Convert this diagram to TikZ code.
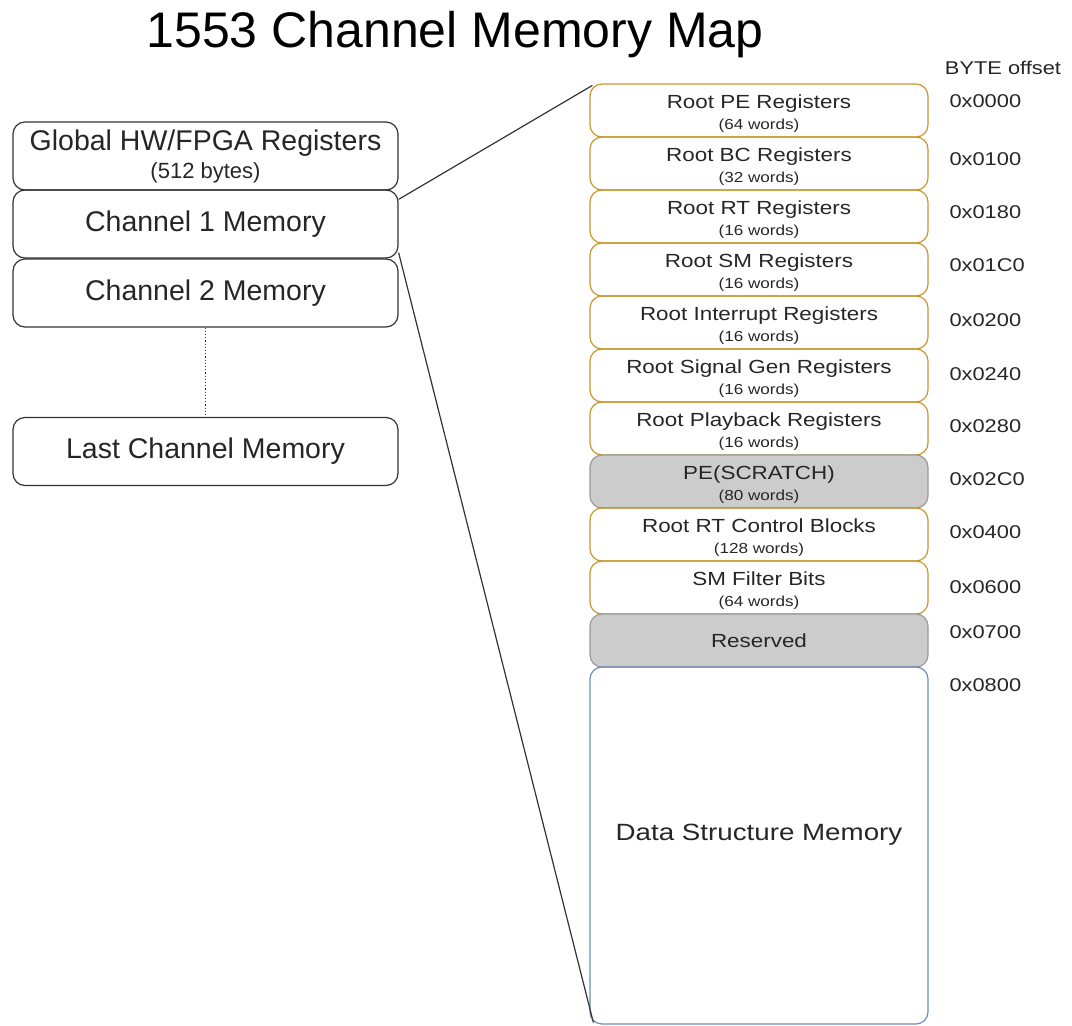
\documentclass[tikz,border=0pt]{standalone}
\usepackage{fontspec}
\setmainfont{Liberation Sans}
\newfontfamily\regfont[FakeStretch=1.18]{Liberation Sans}
\usetikzlibrary{positioning}

\definecolor{regline}{HTML}{C8962E}
\definecolor{scratchfill}{HTML}{CCCCCC}
\definecolor{scratchline}{HTML}{9A9A9A}
\definecolor{dataline}{HTML}{6C8EBF}
\definecolor{boxline}{HTML}{333333}

\tikzset{
  chanbox/.style={draw=boxline, line width=1.2pt, rounded corners=12pt, minimum width=385pt, minimum height=68pt, inner sep=0pt, align=center, font=\fontsize{28.5}{33}\selectfont, text=black!85},
  regbox/.style={draw=regline, line width=1.2pt, rounded corners=12pt, minimum width=338pt, minimum height=53pt, inner sep=0pt, align=center, font=\regfont\fontsize{19}{22}\selectfont, text=black!85},
  graybox/.style={regbox, draw=scratchline, fill=scratchfill},
  offs/.style={anchor=west, font=\regfont\fontsize{18.5}{22}\selectfont, text=black!85},
}
\newcommand{\regtext}[2]{\rule{0pt}{20pt}#1\\[-1pt]{\fontsize{14.5}{16}\selectfont (#2 words)}}

\begin{document}
\begin{tikzpicture}[x=1pt, y=-1pt]
		\useasboundingbox (0,0) rectangle (1072,1026);
		\node[font=\fontsize{50}{60}\selectfont, anchor=base] (title) at (455,47) {1553 Channel Memory Map};
		% left column
		\node[chanbox] (global) at (205.5,156) {Global HW/FPGA Registers\\[-5pt]{\fontsize{22}{24}\selectfont (512 bytes)}};
		\node[chanbox] (ch1) at (205.5,224) {Channel 1 Memory};
		\node[chanbox] (ch2) at (205.5,293) {Channel 2 Memory};
		\node[chanbox] (last) at (205.5,451.5) {Last Channel Memory};
		\draw[boxline, line width=1.2pt, dotted] (ch2.south) -- (last.north);
		% right column
		\node[regbox] (rootpe) at (759,110.5) {\regtext{Root PE Registers}{64}};
		\node[regbox] (rootbc) at (759,163.5) {\regtext{Root BC Registers}{32}};
		\node[regbox] (rootrt) at (759,216.5) {\regtext{Root RT Registers}{16}};
		\node[regbox] (rootsm) at (759,269.5) {\regtext{Root SM Registers}{16}};
		\node[regbox] (rootint) at (759,322.5) {\regtext{Root Interrupt Registers}{16}};
		\node[regbox] (rootsig) at (759,375.5) {\regtext{Root Signal Gen Registers}{16}};
		\node[regbox] (rootplay) at (759,428.5) {\regtext{Root Playback Registers}{16}};
		\node[graybox] (scratch) at (759,481.5) {\regtext{PE(SCRATCH)}{80}};
		\node[regbox] (rtctrl) at (759,534.5) {\regtext{Root RT Control Blocks}{128}};
		\node[regbox] (smfilter) at (759,587.5) {\regtext{SM Filter Bits}{64}};
		\node[graybox] (reserved) at (759,640.5) {Reserved};
		\node[regbox, draw=dataline, minimum height=357pt, font=\regfont\fontsize{23.5}{28}\selectfont] (data) at (759,845.5) {\raisebox{27pt}{Data Structure Memory}};
		% offsets
		\node[offs, anchor=center] (byteoff) at (1003,68) {BYTE offset};
		\node[offs] (o0000) at (946,101) {0x0000};
		\node[offs] (o0100) at (946,159) {0x0100};
		\node[offs] (o0180) at (946,212) {0x0180};
		\node[offs] (o01c0) at (946,265) {0x01C0};
		\node[offs] (o0200) at (946,320) {0x0200};
		\node[offs] (o0240) at (946,374) {0x0240};
		\node[offs] (o0280) at (946,426) {0x0280};
		\node[offs] (o02c0) at (946,479) {0x02C0};
		\node[offs] (o0400) at (946,532) {0x0400};
		\node[offs] (o0600) at (946,587) {0x0600};
		\node[offs] (o0700) at (946,632) {0x0700};
		\node[offs] (o0800) at (946,685) {0x0800};
		% zoom lines
		\draw[boxline, line width=1.2pt] ([yshift=-10pt]ch1.north east) -- ([xshift=3pt,yshift=-2pt]rootpe.north west);
		\draw[boxline, line width=1.2pt] ([yshift=6pt]ch1.south east) -- ([xshift=4pt,yshift=2pt]data.south west);
\end{tikzpicture}
\end{document}
